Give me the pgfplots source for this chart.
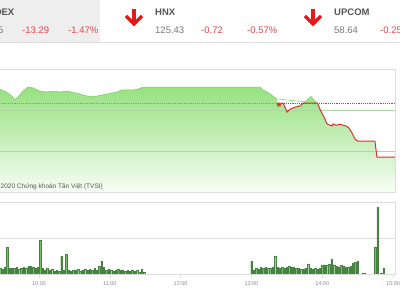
\documentclass[border=0pt]{standalone}
\usepackage{pgfplots}
\pgfplotsset{compat=1.18}
\usepackage{fontspec}
\setmainfont{Liberation Sans}
\definecolor{lgray}{HTML}{DDDDDD}
\definecolor{hdrgray}{HTML}{EEEEEE}
\definecolor{labgray}{HTML}{555555}
\definecolor{numgray}{HTML}{777777}
\definecolor{negred}{HTML}{E0474C}
\definecolor{arrowred}{HTML}{E31A1C}
\definecolor{tickgray}{HTML}{888888}
\definecolor{linered}{HTML}{D2372C}
\definecolor{areatop}{RGB}{140,222,115}
\definecolor{areabot}{RGB}{246,253,244}
\definecolor{edgegreen}{RGB}{120,205,100}
\definecolor{refgreen}{RGB}{105,180,90}
\definecolor{gridgreen}{RGB}{175,215,165}
\definecolor{barfill}{RGB}{118,188,104}
\definecolor{baredge}{RGB}{70,130,65}
\begin{document}
\begin{tikzpicture}
\useasboundingbox (0pt,0pt) rectangle (400pt,300pt);
\clip (0pt,0pt) rectangle (400pt,300pt);
\fill[white] (0pt,0pt) rectangle (400pt,300pt);
% header
\fill[hdrgray] (0pt,258pt) rectangle (100pt,300pt);
\draw[lgray, line width=0.6pt] (0pt,258pt) -- (400pt,258pt);
\begin{scope}[every node/.style={inner sep=0pt, font=\fontsize{9.5}{11}\selectfont}]
\node[anchor=base east, text=labgray] at (14.5pt,284pt) {\bfseries VN-INDEX};
\node[anchor=base east, text=numgray] at (3.5pt,266pt) {888.45};
\node[anchor=base west, text=negred] at (22pt,266pt) {-13.29};
\node[anchor=base west, text=negred] at (68pt,266pt) {-1.47\%};
\node[anchor=base west, text=labgray] at (155pt,284pt) {\bfseries HNX};
\node[anchor=base west, text=numgray] at (155pt,266pt) {125.43};
\node[anchor=base west, text=negred] at (201pt,266pt) {-0.72};
\node[anchor=base west, text=negred] at (247pt,266pt) {-0.57\%};
\node[anchor=base west, text=labgray] at (334pt,284pt) {\bfseries UPCOM};
\node[anchor=base west, text=numgray] at (334pt,266pt) {58.64};
\node[anchor=base west, text=negred] at (380pt,266pt) {-0.25};
\end{scope}
% arrows
\foreach \ax in {134,313}{
  \draw[arrowred, line width=3.4pt] (\ax pt,291pt) -- (\ax pt,277pt);
  \draw[arrowred, line width=3.4pt, line join=miter] (\ax pt-8pt,284pt) -- (\ax pt,276pt) -- (\ax pt+8pt,284pt);
}
% main chart
\begin{axis}[at={(-14.1pt,108pt)}, anchor=south west, scale only axis,
  width=409.1pt, height=123pt,
  xmin=15, xmax=361.7, ymin=880, ymax=910,
  xtick=\empty, ytick={890,900}, yticklabels=\empty,
  ymajorgrids, grid style={lgray, line width=0.5pt},
  axis line style={lgray, line width=0.5pt}, major tick length=0pt]
\addplot[draw=none, top color=areatop, bottom color=areabot, fill opacity=0.9] coordinates {
(15,904.6)(20,904.9)(27,905.1)(32,904.4)(37,903.4)(39.7,902.5)(42.2,903.2)(46.4,904.6)(50.7,905.6)(54.9,905.4)(60.8,904.6)(66.8,904.4)(71.9,904.6)(77.8,904.4)(83.7,904.6)(92.2,904.1)(100.7,903.4)(109.2,903.4)(117.6,903.9)(126.1,904.4)(130.3,904.9)(139.7,904.9)(143.9,905.1)(148.1,905.6)(150,905.6)(240,905.6)(247.3,905.6)(249.8,904.9)(253.2,904.4)(255.8,903.9)(259.2,903.2)(261.7,902.7)(262.5,901.0)(263.4,901.7)(264.2,901.0)(265.1,901.7)(266.8,901.7)(268.5,900.7)(270.2,899.5)(272.7,900.2)(277,900.7)(281.2,901.0)(285.4,902.0)(288,902.7)(290.5,903.3)(293.1,902.4)(295.6,901.7)(298.1,900.2)(301.5,898.3)(304.1,896.6)(306.6,896.3)(308.3,896.1)(309.2,896.6)(311.7,896.3)(315.1,896.5)(317.6,896.3)(320.2,896.1)(322.7,895.6)(325.3,894.4)(327.8,892.9)(330.3,892.4)(344.7,892.4)(346.4,888.5)(361.7,888.5)
} \closedcycle;
\addplot[gridgreen, line width=0.5pt, forget plot] coordinates {(15,900)(361.7,900)};
\addplot[gridgreen, line width=0.5pt, forget plot] coordinates {(15,890)(361.7,890)};
\addplot[edgegreen, line width=0.5pt] coordinates {
(15,904.6)(20,904.9)(27,905.1)(32,904.4)(37,903.4)(39.7,902.5)(42.2,903.2)(46.4,904.6)(50.7,905.6)(54.9,905.4)(60.8,904.6)(66.8,904.4)(71.9,904.6)(77.8,904.4)(83.7,904.6)(92.2,904.1)(100.7,903.4)(109.2,903.4)(117.6,903.9)(126.1,904.4)(130.3,904.9)(139.7,904.9)(143.9,905.1)(148.1,905.6)(150,905.6)(240,905.6)(247.3,905.6)(249.8,904.9)(253.2,904.4)(255.8,903.9)(259.2,903.2)(261.7,902.7)(285.4,902.0)(288,902.7)(290.5,903.3)(293.1,902.4)(295.6,901.7)
};
\addplot[refgreen, line width=0.6pt, dash pattern=on 1.2pt off 1pt] coordinates {(15,901.7)(261.7,901.7)};
\addplot[linered, line width=0.6pt, dash pattern=on 1.2pt off 1pt] coordinates {(261.7,901.7)(361.7,901.7)};
\addplot[linered, line width=1pt] coordinates {
(261.7,901.7)(262.5,901.0)(263.4,901.7)(264.2,901.0)(265.1,901.7)(266.8,901.7)(268.5,900.7)(270.2,899.5)(272.7,900.2)(277,900.7)(281.2,901.0)(284,901.7)(296,901.7)(298.1,900.2)(301.5,898.3)(304.1,896.6)(306.6,896.3)(308.3,896.1)(309.2,896.6)(311.7,896.3)(315.1,896.5)(317.6,896.3)(320.2,896.1)(322.7,895.6)(325.3,894.4)(327.8,892.9)(330.3,892.4)(344.7,892.4)(346.4,888.5)(361.7,888.5)
};
\end{axis}
\node[anchor=base west, inner sep=0pt, text=labgray, font=\fontsize{6.5}{7}\selectfont] at (0.5pt,111pt) {2020 Chứng khoán Tân Việt (TVSI)};
% volume chart
\begin{axis}[at={(-14.1pt,26pt)}, anchor=south west, scale only axis,
  width=409.1pt, height=72pt,
  xmin=15, xmax=361.7, ymin=0, ymax=2,
  xtick={60,120,180,240,300,360},
  xticklabels={10:00,11:00,12:00,13:00,14:00,15:00},
  ytick={1}, yticklabels=\empty, ytick style={draw=none},
  ymajorgrids, grid style={lgray, line width=0.5pt},
  axis line style={lgray, line width=0.5pt},
  xtick style={lgray, line width=0.5pt},
  tick align=outside, xtick pos=lower, major tick length=4pt,
  ticklabel style={font=\fontsize{5.5}{6}\selectfont, text=tickgray},
  ybar, bar width=1.4pt]
\addplot[fill=barfill, draw=baredge, line width=0.2pt] coordinates {
(15,0.17)(17,0.19)(19,0.15)(21,0.18)(23,0.16)(25,0.2)(27,0.17)(29,0.14)(31,0.18)(33,0.75)(35,0.17)(37,0.16)(39,0.15)(41,0.18)(43,0.14)(45,0.17)(47,0.19)(49,0.16)(51,0.22)(53,0.21)(55,0.2)(57,0.15)(59,0.18)(61,0.94)(63,0.17)(65,0.12)(67,0.16)(69,0.1)(71,0.13)(73,0.09)(75,0.11)(77,0.08)(79,0.5)(81,0.1)(83,0.56)(85,0.1)(87,0.09)(89,0.11)(91,0.1)(93,0.13)(95,0.09)(97,0.12)(99,0.14)(101,0.1)(103,0.13)(105,0.11)(107,0.15)(109,0.1)(111,0.22)(113,0.36)(115,0.2)(117,0.1)(119,0.14)(121,0.12)(123,0.09)(125,0.11)(127,0.13)(129,0.1)(131,0.12)(133,0.08)(135,0.11)(137,0.09)(139,0.12)(141,0.07)(143,0.1)(145,0.06)(147,0.13)(149,0.05)
(240,0.36)(242,0.12)(244,0.15)(246,0.14)(248,0.2)(250,0.16)(252,0.18)(254,0.15)(256,0.17)(258,0.19)(260,0.5)(262,0.18)(264,0.17)(266,0.2)(268,0.16)(270,0.18)(272,0.22)(274,0.19)(276,0.2)(278,0.17)(280,0.15)(282,0.14)(284,0.13)(286,0.16)(288,0.28)(290,0.15)(292,0.14)(294,0.16)(296,0.13)(298,0.15)(300,0.24)(302,0.26)(304,0.25)(306,0.27)(308,0.42)(310,0.26)(312,0.22)(314,0.2)(316,0.24)(318,0.21)(320,0.18)(322,0.2)(324,0.22)(326,0.3)(328,0.33)(330,0.35)
(334,0.03)(336,0.02)(345,0.75)(347,1.86)(350,0.03)(352,0.17)
};
\end{axis}
\end{tikzpicture}
\end{document}
